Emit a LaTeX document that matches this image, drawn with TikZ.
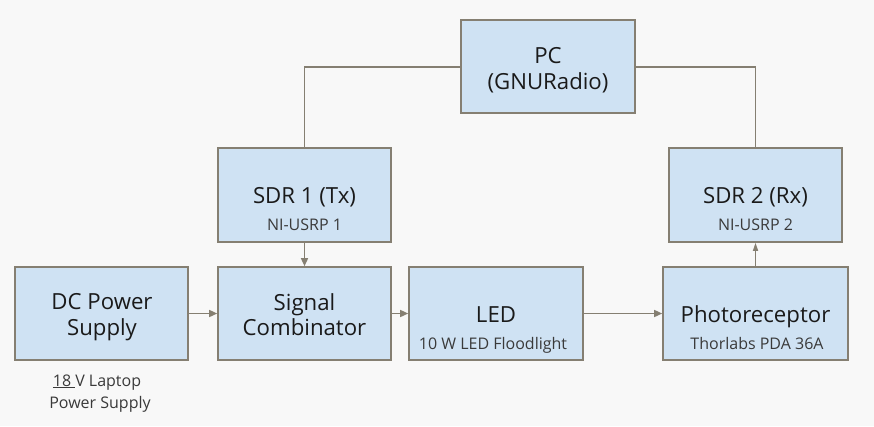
\documentclass[tikz,border=0pt]{standalone}
\usepackage{fontspec}
\setmainfont{Open Sans}
\usetikzlibrary{arrows.meta}
\definecolor{bg}{HTML}{F8F8F8}
\definecolor{boxfill}{HTML}{CFE2F3}
\definecolor{edge}{HTML}{857F72}
\definecolor{maintext}{HTML}{1A1A1A}
\definecolor{subtext}{HTML}{3A3A3A}
\tikzset{
  blk/.style={draw=edge, line width=1.6pt, fill=boxfill, inner sep=0pt, minimum width=#1, minimum height=93pt},
  blk/.default=173pt,
  mtxt/.style={anchor=base, inner sep=0pt, text=maintext, font=\fontsize{22.2}{26}\selectfont},
  stxt/.style={anchor=base, inner sep=0pt, text=subtext, font=\fontsize{16}{19}\selectfont},
  conn/.style={draw=edge, line width=1.4pt},
  arr/.style={conn, -{Triangle[length=8pt,width=7pt]}},
  arrup/.style={conn, -{Triangle[length=8pt,width=5pt]}},
}
\begin{document}
\begin{tikzpicture}[x=1pt,y=-1pt]
\useasboundingbox (0,0) rectangle (874,426);
\fill[bg] (0,0) rectangle (874,426);
% boxes
\node[blk=174pt] (pc) at (548,66.5) {};
\node[blk, minimum height=94pt] (sdr1) at (304.5,195) {};
\node[blk, minimum height=94pt] (sdr2) at (755.5,195) {};
\node[blk] (dc) at (101.5,313.5) {};
\node[blk] (sc) at (304.5,313.5) {};
\node[blk=174pt] (led) at (496,313.5) {};
\node[blk=185pt] (ph) at (755.5,313.5) {};
% texts
\node[mtxt] (pct1) at (548,63) {PC};
\node[mtxt] (pct2) at (548,89) {(GNURadio)};
\node[mtxt] (s1t1) at (304.5,203) {SDR 1 (Tx)};
\node[stxt] (s1t2) at (304.5,230) {NI-USRP 1};
\node[mtxt] (s2t1) at (755.5,203) {SDR 2 (Rx)};
\node[stxt] (s2t2) at (755.5,230) {NI-USRP 2};
\node[mtxt] (dct1) at (102,309) {DC Power};
\node[mtxt] (dct2) at (102,335) {Supply};
\node[mtxt] (sct1) at (304.5,310) {Signal};
\node[mtxt] (sct2) at (304.5,335) {Combinator};
\node[mtxt] (ledt1) at (496,322) {LED};
\node[stxt] (ledt2) at (493,349) {10 W LED Floodlight};
\node[mtxt] (pht1) at (755.5,322) {Photoreceptor};
\node[stxt] (pht2) at (757,349) {Thorlabs PDA 36A};
\node[stxt] (lab1) at (97,386) {\underline{18\ }V Laptop};
\node[stxt] (lab2) at (100,408) {Power Supply};
% connectors
\draw[conn] (pc.west |- 0,67) -| (sdr1.north);
\draw[conn] (pc.east |- 0,67) -| (sdr2.north);
\draw[arr] (sdr1.south) -- (sc.north);
\draw[arr] (dc.east) -- (sc.west);
\draw[arr] (sc.east) -- (led.west);
\draw[arr] (led.east) -- (ph.west);
\draw[arrup] (ph.north) -- (sdr2.south);
\end{tikzpicture}
\end{document}
